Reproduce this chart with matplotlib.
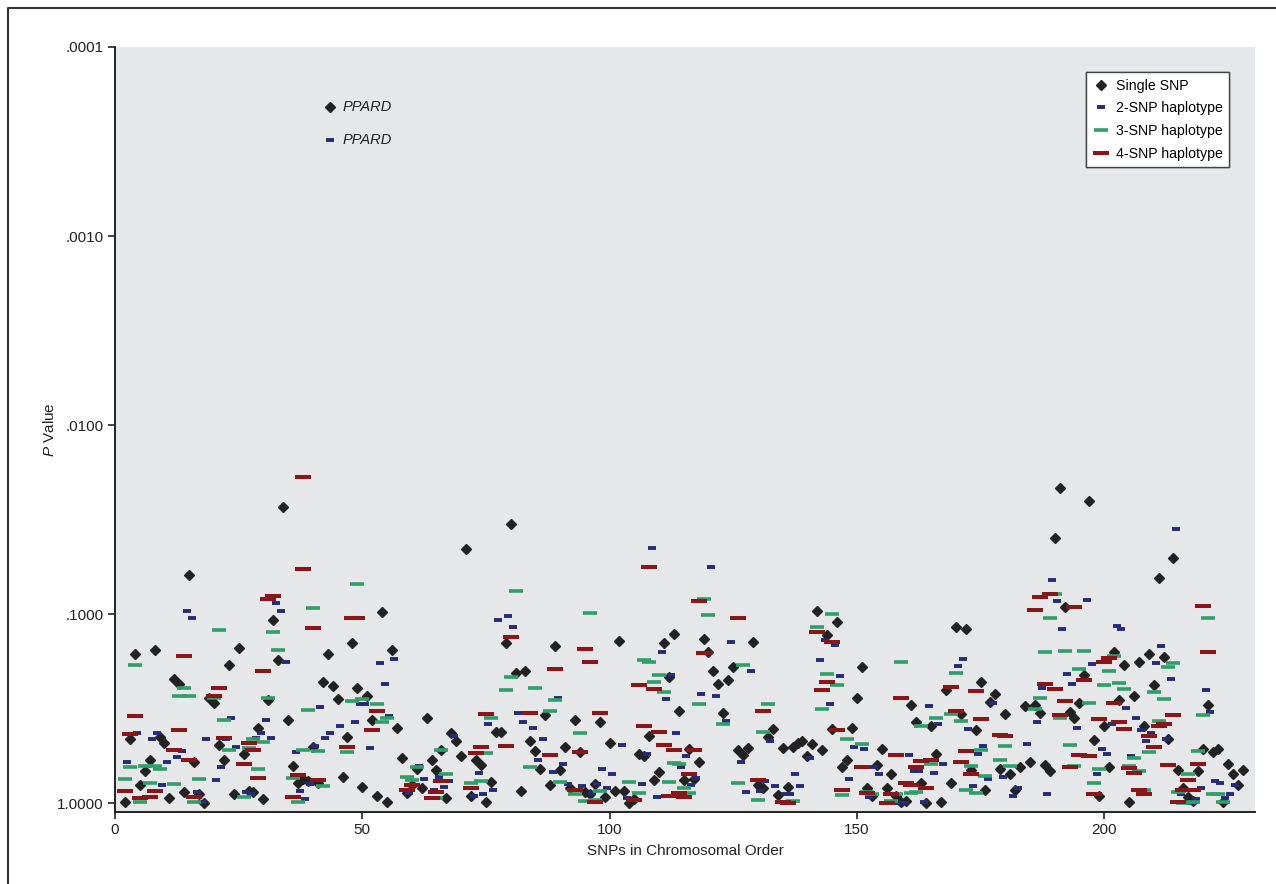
import matplotlib
matplotlib.use('Agg')
import matplotlib.pyplot as plt
from matplotlib.lines import Line2D
import numpy as np

plt.rcParams['font.family'] = ['Liberation Sans', 'DejaVu Sans']
plt.rcParams['mathtext.fontset'] = 'custom'
plt.rcParams['mathtext.it'] = 'Liberation Sans:italic'
plt.rcParams['mathtext.rm'] = 'Liberation Sans'

snp_pos = list(range(2, 229))
single_nlp = [0.01, 0.34, 0.79, 0.10, 0.17, 0.23, 0.81, 0.35, 0.32, 0.03,
              0.66, 0.63, 0.06, 1.21, 0.22, 0.05, 0.0, 0.56, 0.53, 0.31,
              0.23, 0.73, 0.05, 0.82, 0.26, 0.065, 0.06, 0.40, 0.025, 0.545,
              0.97, 0.76, 1.57, 0.44, 0.20, 0.11, 0.13, 0.12, 0.30, 0.11,
              0.64, 0.79, 0.62, 0.55, 0.14, 0.35, 0.85, 0.61, 0.085, 0.57,
              0.44, 0.04, 1.01, 0.01, 0.81, 0.40, 0.24, 0.055, 0.10, 0.18,
              0.08, 0.45, 0.23, 0.175, 0.28, 0.03, 0.37, 0.33, 0.25, 1.345,
              0.04, 0.23, 0.205, 0.01, 0.115, 0.38, 0.38, 0.85, 1.475, 0.69,
              0.065, 0.70, 0.33, 0.275, 0.18, 0.47, 0.10, 0.83, 0.175, 0.30,
              0.08, 0.44, 0.27, 0.06, 0.05, 0.105, 0.43, 0.035, 0.32, 0.065,
              0.86, 0.065, 0.0, 0.025, 0.26, 0.25, 0.355, 0.125, 0.165, 0.85,
              0.67, 0.895, 0.49, 0.125, 0.29, 0.13, 0.22, 0.87, 0.80, 0.70,
              0.63, 0.48, 0.655, 0.72, 0.28, 0.255, 0.295, 0.855, 0.095, 0.08,
              0.35, 0.395, 0.045, 0.295, 0.085, 0.30, 0.32, 0.33, 0.25, 0.315,
              1.015, 0.28, 0.89, 0.395, 0.96, 0.19, 0.23, 0.40, 0.555, 0.72,
              0.08, 0.04, 0.205, 0.29, 0.08, 0.155, 0.04, 0.01, 0.015, 0.52,
              0.43, 0.11, 0.0, 0.41, 0.26, 0.01, 0.60, 0.11, 0.935, 0.475,
              0.92, 0.175, 0.39, 0.64, 0.07, 0.535, 0.58, 0.18, 0.475, 0.155,
              0.07, 0.19, 0.515, 0.22, 0.52, 0.48, 0.205, 0.17, 1.405, 1.67,
              1.04, 0.485, 0.45, 0.53, 0.68, 1.60, 0.335, 0.04, 0.41, 0.195,
              0.80, 0.545, 0.73, 0.01, 0.57, 0.75, 0.41, 0.79, 0.625, 1.19,
              0.775, 0.34, 1.30, 0.175, 0.08, 0.035, 0.015, 0.17, 0.29, 0.52,
              0.27, 0.29, 0.01, 0.21, 0.155, 0.10, 0.175]

hap2_pos = [2.5, 4.5, 7.5, 8.5, 9.5, 10.5, 12.5, 13.5, 14.5, 15.5, 16.5, 17.5, 18.5,
            20.5, 21.5, 22.5, 23.5, 24.5, 26.5, 27.5, 28.5, 29.5, 30.5, 31.5, 32.5,
            33.5, 34.5, 36.5, 37.5, 38.5, 39.5, 40.5, 41.5, 42.5, 43.5, 45.5, 48.5,
            49.5, 50.5, 51.5, 53.5, 54.5, 55.5, 56.5,
            59.5, 61.5, 62.5, 64.5, 65.5, 66.5, 67.5, 68.5, 72.5, 73.5, 74.5, 75.5,
            76.5, 77.5, 79.5, 80.5, 81.5, 82.5, 84.5, 85.5, 86.5, 88.5, 89.5, 90.5,
            91.5, 94.5, 96.5, 97.5, 98.5, 99.5,
            100.5, 102.5, 103.5, 106.5, 107.5, 108.5, 109.5, 110.5, 111.5, 112.5,
            113.5, 114.5, 115.5, 116.5, 117.5, 118.5, 120.5, 121.5, 123.5, 124.5,
            126.5, 127.5, 128.5, 130.5, 131.5, 132.5, 133.5, 135.5, 136.5, 137.5,
            138.5, 140.5, 142.5,
            143.5, 144.5, 145.5, 146.5, 148.5, 149.5, 151.5, 152.5, 153.5, 154.5,
            158.5, 159.5, 160.5, 161.5, 162.5, 163.5, 164.5, 165.5, 166.5, 167.5,
            169.5, 170.5, 171.5, 172.5, 173.5, 174.5, 175.5, 176.5, 177.5, 179.5,
            181.5, 182.5, 184.5,
            186.5, 187.5, 188.5, 189.5, 190.5, 191.5, 192.5, 193.5, 194.5, 196.5,
            197.5, 198.5, 199.5, 200.5, 201.5, 202.5, 203.5, 204.5, 205.5, 206.5,
            207.5, 208.5, 209.5, 210.5, 211.5, 212.5, 213.5, 214.5, 215.5, 217.5,
            218.5, 219.5, 220.5, 221.5, 222.5, 223.5, 224.5, 225.5, 226.5]
hap2_nlp = [0.22, 0.375, 0.34, 0.375, 0.10, 0.22, 0.245, 0.275, 1.02, 0.98, 0.06, 0.01, 0.34,
            0.125, 0.19, 0.34, 0.45, 0.30, 0.06, 0.05, 0.345, 0.37, 0.44, 0.345, 1.06,
            1.02, 0.75, 0.27, 0.065, 0.025, 0.105, 0.305, 0.51, 0.345, 0.37, 0.41, 0.43,
            0.525, 0.525, 0.295, 0.74, 0.63, 0.46, 0.765,
            0.055, 0.20, 0.13, 0.07, 0.14, 0.085, 0.12, 0.355, 0.04, 0.16, 0.05, 0.42,
            0.07, 0.97, 0.99, 0.935, 0.48, 0.43, 0.40, 0.23, 0.34, 0.165, 0.555, 0.21,
            0.105, 0.09, 0.055, 0.105, 0.18, 0.08,
            0.155, 0.31, 0.03, 0.105, 0.26, 1.35, 0.035, 0.80, 0.55, 0.68,
            0.37, 0.19, 0.25, 0.10, 0.135, 0.58, 1.25, 0.57, 0.435, 0.855,
            0.22, 0.06, 0.70, 0.065, 0.12, 0.33, 0.09, 0.05, 0.05, 0.155,
            0.09, 0.24, 0.76,
            0.865, 0.525, 0.84, 0.675, 0.13, 0.30, 0.29, 0.035, 0.19, 0.155,
            0.0, 0.0, 0.255, 0.17, 0.17, 0.01, 0.515, 0.16, 0.42, 0.21,
            0.49, 0.725, 0.765, 0.395, 0.09, 0.26, 0.305, 0.13, 0.53, 0.14,
            0.04, 0.08, 0.315,
            0.43, 0.61, 0.05, 1.18, 1.07, 0.92, 0.685, 0.63, 0.40, 1.075,
            0.735, 0.155, 0.29, 0.26, 0.42, 0.94, 0.92, 0.505, 0.25, 0.45,
            0.39, 0.33, 0.37, 0.74, 0.835, 0.34, 0.66, 1.45, 0.05, 0.0,
            0.025, 0.08, 0.60, 0.485, 0.12, 0.11, 0.03, 0.05, 0.10]

hap3_pos = [2, 3, 4, 5, 6, 7, 8, 9, 12, 13, 14, 15, 16, 17, 20, 21, 22, 23, 26, 27,
            28, 29, 30, 31, 32, 33, 36, 37, 38, 39, 40, 41, 42, 47, 48, 49, 50, 53, 54, 55,
            59, 60, 61, 65, 66, 67, 72, 74, 75, 76, 79, 80, 81, 84, 85, 88, 89, 90, 93, 94,
            95, 96, 97, 98, 104, 106, 107, 108, 109, 110, 111, 112, 113, 114, 115, 116, 118, 119, 120, 123,
            126, 127, 130, 131, 132, 137, 142, 143, 144, 145, 146, 147, 148, 151, 152, 153, 157, 158, 159, 161,
            162, 163, 165, 166, 169, 170, 171, 172, 173, 174, 175, 176, 179, 180, 181, 186, 187, 188, 189, 190,
            191, 192, 193, 194, 195, 196, 197, 198, 199, 200, 201, 202, 203, 204, 205, 206, 207, 208, 209, 210,
            211, 212, 213, 214, 215, 216, 217, 218, 219, 220, 221, 222, 223, 224]
hap3_nlp = [0.13, 0.19, 0.73, 0.01, 0.20, 0.11, 0.20, 0.18, 0.105, 0.57, 0.61, 0.57, 0.01, 0.13, 0.56, 0.915, 0.44, 0.28, 0.035, 0.295,
            0.34, 0.18, 0.325, 0.555, 0.905, 0.81, 0.135, 0.01, 0.28, 0.495, 1.035, 0.275, 0.09, 0.27, 0.54, 1.16, 0.55, 0.525, 0.43, 0.45,
            0.14, 0.125, 0.19, 0.03, 0.28, 0.155, 0.11, 0.12, 0.265, 0.45, 0.60, 0.67, 1.125, 0.195, 0.61, 0.49, 0.545, 0.115, 0.05, 0.37,
            0.015, 1.005, 0.02, 0.065, 0.115, 0.055, 0.76, 0.75, 0.64, 0.68, 0.59, 0.115, 0.215, 0.21, 0.08, 0.055, 0.525, 1.08, 0.995, 0.42,
            0.11, 0.73, 0.02, 0.38, 0.525, 0.015, 0.935, 0.50, 0.685, 1.00, 0.625, 0.045, 0.34, 0.315, 0.06, 0.05, 0.015, 0.05, 0.75, 0.055,
            0.06, 0.41, 0.21, 0.45, 0.475, 0.69, 0.435, 0.07, 0.20, 0.055, 0.28, 0.145, 0.23, 0.305, 0.20, 0.50, 0.555, 0.80, 0.98, 1.105,
            0.45, 0.805, 0.31, 0.20, 0.71, 0.805, 0.53, 0.11, 0.18, 0.625, 0.70, 0.78, 0.635, 0.605, 0.20, 0.24, 0.17, 0.07, 0.27, 0.59,
            0.435, 0.55, 0.72, 0.745, 0.06, 0.0, 0.155, 0.01, 0.275, 0.465, 0.98, 0.05, 0.05, 0.01]

hap4_pos = [2, 3, 4, 5, 7, 8, 12, 13, 14, 15, 16, 20, 21, 22, 26, 27, 28, 29, 30, 31,
            32, 36, 37, 38, 38, 40, 41, 47, 48, 49, 52, 53, 59, 60, 64, 65, 66, 72, 73, 74,
            75, 79, 80, 84, 88, 89, 93, 94, 95, 96, 97, 98, 105, 106, 107, 108, 109, 110, 111, 112,
            113, 114, 115, 116, 117, 118, 119, 126, 130, 131, 135, 136, 142, 143, 144, 145, 146, 147, 151, 152,
            156, 157, 158, 159, 160, 161, 162, 163, 164, 165, 169, 170, 171, 172, 173, 174, 175, 179, 180, 186,
            187, 188, 189, 190, 191, 192, 193, 194, 195, 196, 197, 198, 199, 200, 201, 202, 203, 204, 205, 206,
            207, 208, 209, 210, 211, 212, 213, 214, 215, 216, 217, 218, 219, 220, 221]
hap4_nlp = [0.065, 0.365, 0.46, 0.03, 0.035, 0.065, 0.28, 0.39, 0.78, 0.23, 0.035, 0.57, 0.61, 0.345, 0.21, 0.32, 0.28, 0.135, 0.70, 1.08,
            1.095, 0.035, 0.15, 1.725, 1.24, 0.93, 0.125, 0.30, 0.98, 0.98, 0.39, 0.49, 0.07, 0.095, 0.03, 0.06, 0.12, 0.08, 0.265, 0.30,
            0.475, 0.305, 0.88, 0.48, 0.255, 0.71, 0.07, 0.27, 0.815, 0.75, 0.005, 0.48, 0.02, 0.625, 0.41, 1.25, 0.605, 0.38, 0.31, 0.04,
            0.285, 0.055, 0.035, 0.155, 0.285, 1.07, 0.795, 0.98, 0.125, 0.49, 0.01, 0.0, 0.905, 0.60, 0.64, 0.855, 0.39, 0.07, 0.195, 0.055,
            0.0, 0.05, 0.255, 0.555, 0.11, 0.095, 0.195, 0.225, 0.08, 0.23, 0.615, 0.49, 0.22, 0.275, 0.155, 0.595, 0.445, 0.36, 0.355, 1.025,
            1.09, 0.63, 1.105, 0.605, 0.47, 0.54, 0.19, 1.04, 0.255, 0.655, 0.25, 0.05, 0.445, 0.75, 0.77, 0.53, 0.43, 0.395, 0.185, 0.16,
            0.07, 0.05, 0.355, 0.30, 0.41, 0.42, 0.205, 0.47, 0.01, 0.07, 0.125, 0.07, 0.21, 1.045, 0.80]

y_ticks = [1e-4, 1e-3, 1e-2, 1e-1, 1.0]
y_ticklabels = ['.0001', '.0010', '.0100', '.1000', '1.0000']
x_ticks = [0, 50, 100, 150, 200]

c_single = '#222222'
c_hap2 = '#262b78'
c_hap3 = '#2f9e68'
c_hap4 = '#8a1619'


def to_p(v):
    return 10.0 ** (-np.asarray(v))


fig = plt.figure(figsize=(12.76, 8.84), dpi=100)
ax = fig.add_axes([115 / 1276, 1 - 812 / 884, 1140 / 1276, 765 / 884])
ax.set_facecolor('#e6e7e9')

ax.plot(snp_pos, to_p(single_nlp), linestyle='none', marker='D', ms=5.5,
        color=c_single, label='Single SNP', zorder=3)
ax.plot(hap2_pos, to_p(hap2_nlp), linestyle='none', marker='_', ms=5.4, mew=2.8,
        color=c_hap2, label='2-SNP haplotype', zorder=4)
ax.plot(hap3_pos, to_p(hap3_nlp), linestyle='none', marker='_', ms=9.5, mew=2.6,
        color=c_hap3, label='3-SNP haplotype', zorder=4)
ax.plot(hap4_pos, to_p(hap4_nlp), linestyle='none', marker='_', ms=12.0, mew=2.9,
        color=c_hap4, label='4-SNP haplotype', zorder=4)

ax.set_yscale('log')
ax.set_ylim(1.11, 1e-4)
ax.set_xlim(0, 230.5)
ax.set_yticks(y_ticks)
ax.set_yticklabels(y_ticklabels)
ax.yaxis.set_minor_locator(matplotlib.ticker.NullLocator())
ax.set_xticks(x_ticks)
ax.tick_params(axis='both', direction='out', length=5, width=1.2, labelsize=11,
               colors='#222222', pad=3)
for s in ['top', 'right']:
    ax.spines[s].set_visible(False)
for s in ['left', 'bottom']:
    ax.spines[s].set_linewidth(1.4)
    ax.spines[s].set_color('#222222')

ax.set_xlabel('SNPs in Chromosomal Order', fontsize=11, color='#222222', labelpad=5)
ax.set_ylabel(r'$\it{P}$ Value', fontsize=11, color='#222222', labelpad=0)

leg = ax.legend(loc='upper right', bbox_to_anchor=(0.977, 0.967), borderaxespad=0,
                fontsize=10.2, frameon=True, fancybox=False, edgecolor='#444444',
                framealpha=1, handlelength=1.2, handletextpad=0.4,
                labelspacing=0.62, borderpad=0.45)
leg.get_frame().set_linewidth(1.0)
ax.add_artist(leg)

# gene key
ax.plot([0.1886], [0.9216], transform=ax.transAxes, marker='D', ms=5.5,
        color=c_single, linestyle='none', clip_on=False)
ax.plot([0.1886], [0.8784], transform=ax.transAxes, marker='_', ms=5.4, mew=2.8,
        color=c_hap2, linestyle='none', clip_on=False)
ax.text(0.2, 0.9216, 'PPARD', transform=ax.transAxes, fontsize=10.5, style='italic',
        va='center', ha='left', color='#222222')
ax.text(0.2, 0.8784, 'PPARD', transform=ax.transAxes, fontsize=10.5, style='italic',
        va='center', ha='left', color='#222222')

# outer frame of the figure
fig.add_artist(Line2D([8 / 1276, 8 / 1276, 1.0], [0.0, 1 - 8 / 884, 1 - 8 / 884],
                      transform=fig.transFigure, color='#333333', linewidth=1.5))

fig.savefig('out.png', dpi=100)
